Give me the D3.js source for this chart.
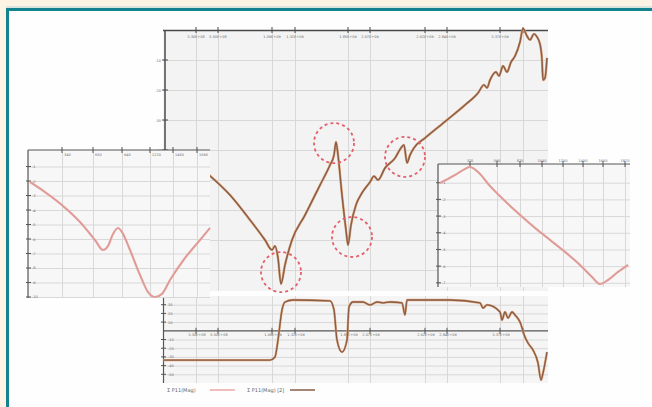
<!DOCTYPE html>
<html>
<head>
<meta charset="utf-8">
<script src="https://cdn.jsdelivr.net/npm/d3@7"></script>
<style>
body{margin:0;background:#fdf4e6;}
svg{display:block;font-family:"DejaVu Sans",sans-serif;}
</style>
</head>
<body>
<script>
// main sweep (MHz / dB)
var mainFreq = [460,670,870,1020,1090,1120,1150,1180,1220,1290,1420,1570,1670,1710,1730,1750,1790,1830,1850,1880,1930,1990,2070,2110,2150,2220,2320,2380,2410,2440,2470,2510,2620,2840,3020,3150,3210,3240,3270,3330,3360,3400,3440,3480,3520,3570,3600,3640,3670,3710,3740,3770,3790,3800,3820,3840];
var mainMag = [-48.3,-55,-63.3,-70,-73.3,-72,-76,-84.7,-78.3,-70,-61.7,-51.7,-45,-41.7,-37.3,-41.7,-55,-66.7,-71.7,-65,-58.3,-54.3,-50.7,-48.7,-50,-46,-42.7,-39.3,-38.3,-44.3,-41.7,-39.3,-36,-30,-25,-21,-18.3,-19.3,-16.7,-14,-15.3,-12,-14,-10.7,-8.7,-4,0.5,-2,-3.3,-1.3,-2.3,-4.7,-10,-16.7,-16,-9.3];
var mainXTicks = [330,550,1090,1320,1850,2070,2620,2840,3370,3600];
var mainXLabels = ["3.30E+08","5.50E+08","1.09E+09","1.32E+09","1.85E+09","2.07E+09","2.62E+09","2.84E+09","3.37E+09",""];
var mainYTicks = [-10,-20,-30,-40,-50,-60,-70,-80];

// marked resonances
var markFreq = [1180,1710,1890,2420];
var markMag = [-80.7,-37.7,-69,-42.3];

// phase trace below
var bottomFreq = [0,1070,1120,1150,1190,1220,1300,1670,1710,1740,1790,1840,1860,1900,2000,2070,2140,2200,2270,2390,2420,2440,2870,3170,3200,3240,3370,3390,3420,3450,3490,3520,3570,3620,3650,3700,3750,3780,3800,3840];
var bottomVal = [-33.6,-33.6,-30.1,-10.6,23.9,33.1,35.4,34.3,23.9,-10.6,-24.4,-10.6,27.4,33.1,33.1,29.7,33.1,32,33.1,32,18.2,35.4,35.4,32,26.2,29.7,21.6,12.4,21.6,14.7,21.6,18.2,10.1,-7.1,-14,-22.1,-37,-56.6,-48.5,-24.4];
var bottomYTicks = [30,20,10,-10,-20,-30,-40,-50];

// left zoom
var leftX = [2,17,34,52,67,75,80,85,90,94,102,112,120,127,134,142,157,172,182];
var leftY = [-2.07,-2.76,-3.66,-4.83,-6.07,-6.76,-6.48,-5.66,-5.24,-5.52,-6.76,-8.48,-9.66,-10,-9.79,-8.83,-7.31,-6.07,-5.24];
var leftXTicks = [34,65,94,122,145,169];
var leftYTicks = [-1,-2,-3,-4,-5,-6,-7,-8,-9,-10];

// right zoom
var rightX = [2,17,27,32,40,52,67,82,97,112,127,142,154,162,170,180,190];
var rightY = [-1.02,-0.54,-0.18,-0.06,-0.36,-1.2,-2.1,-2.93,-3.71,-4.43,-5.15,-5.93,-6.65,-7.07,-6.83,-6.35,-5.93];
var rightXTicks = [32,59,82,104,125,145,165,187];
var rightYTicks = [-1,-2,-3,-4,-5,-6,-7];

var legendNames = ["\u03a3 P11(Mag)", "\u03a3 P11(Mag) [2]"];

var brown = "#8a5d47", orange = "#dba47a", pink = "#eca6a6";

var svg = d3.select("body").append("svg")
    .attr("width", 652)
    .attr("height", 407);

svg.append("rect").attr("width",652).attr("height",407).attr("fill","#fdf4e6");
svg.append("rect").attr("x",8).attr("y",10).attr("width",644).attr("height",397).attr("fill","#fefefe");
svg.append("line").attr("x1",6).attr("x2",652).attr("y1",7).attr("y2",7).attr("stroke","#b5d6d3").attr("stroke-width",1);
svg.append("line").attr("x1",6).attr("x2",652).attr("y1",9.5).attr("y2",9.5).attr("stroke","#13848f").attr("stroke-width",3);
svg.append("line").attr("x1",7.5).attr("x2",7.5).attr("y1",8).attr("y2",407).attr("stroke","#13848f").attr("stroke-width",3);

// background, grid and axis lines for one panel
function drawPanel(x, y, xTicks, yTicks, bg){
  var g = svg.append("g");
  var xr = x.range(), yr = y.range();
  g.append("rect")
    .attr("x", xr[0]).attr("y", yr[0])
    .attr("width", xr[1]-xr[0]).attr("height", yr[1]-yr[0])
    .attr("fill", bg);
  g.append("g")
    .attr("transform","translate(0,"+yr[0]+")")
    .call(d3.axisBottom(x).tickValues(xTicks).tickSize(yr[1]-yr[0]).tickFormat(""))
    .call(function(a){ a.select(".domain").remove(); a.selectAll("line").attr("stroke","#d8d8d8"); });
  g.append("g")
    .attr("transform","translate("+xr[0]+",0)")
    .call(d3.axisRight(y).tickValues(yTicks).tickSize(xr[1]-xr[0]).tickFormat(""))
    .call(function(a){ a.select(".domain").remove(); a.selectAll("line").attr("stroke","#d8d8d8"); });
  return g;
}

function drawTrace(g, x, y, xs, ys, under, over, w){
  var line = d3.line()
      .x(function(d){ return x(d[0]); })
      .y(function(d){ return y(d[1]); })
      .curve(d3.curveMonotoneX);
  var pts = xs.map(function(v,i){ return [v, ys[i]]; });
  g.append("path").attr("d", line(pts)).attr("fill","none").attr("stroke",under).attr("stroke-width",w+1).attr("stroke-linejoin","round");
  g.append("path").attr("d", line(pts)).attr("fill","none").attr("stroke",over).attr("stroke-width",w).attr("stroke-linejoin","round");
}

function smallText(g, x, y, t, anchor){
  g.append("text").attr("x",x).attr("y",y).attr("font-size","3.5px").attr("fill","#6b6b6b")
    .attr("text-anchor", anchor || "start").text(t);
}

// main panel
var xMain = d3.scaleLinear().domain([0,3850]).range([163,548]);
var yMain = d3.scaleLinear().domain([0,-87]).range([30,291]);
var gMain = drawPanel(xMain, yMain, mainXTicks, mainYTicks, "#f3f3f3");
gMain.append("line").attr("x1",163).attr("x2",548).attr("y1",30.5).attr("y2",30.5).attr("stroke","#4a4a4a").attr("stroke-width",1.5);
gMain.append("line").attr("x1",165).attr("x2",165).attr("y1",30).attr("y2",291).attr("stroke","#4a4a4a").attr("stroke-width",1.5);
mainXTicks.forEach(function(d,i){
  gMain.append("line").attr("x1",xMain(d)).attr("x2",xMain(d)).attr("y1",27).attr("y2",33).attr("stroke","#4a4a4a");
  smallText(gMain, xMain(d), 38, mainXLabels[i], "middle");
});
mainYTicks.forEach(function(d){
  gMain.append("line").attr("x1",162).attr("x2",168).attr("y1",yMain(d)).attr("y2",yMain(d)).attr("stroke","#4a4a4a");
  smallText(gMain, 161, yMain(d)+1.5, d, "end");
});
drawTrace(gMain, xMain, yMain, mainFreq, mainMag, orange, brown, 1.4);

// bottom panel
var yBot = d3.scaleLinear().domain([40,-60]).range([296,383]);
var gBot = drawPanel(xMain, yBot, mainXTicks, bottomYTicks, "#f5f5f5");
gBot.append("line").attr("x1",163).attr("x2",548).attr("y1",yBot(0)).attr("y2",yBot(0)).attr("stroke","#555").attr("stroke-width",1.2);
gBot.append("line").attr("x1",163.5).attr("x2",163.5).attr("y1",296).attr("y2",383).attr("stroke","#555").attr("stroke-width",1.2);
bottomYTicks.forEach(function(d){
  gBot.append("line").attr("x1",161).attr("x2",166).attr("y1",yBot(d)).attr("y2",yBot(d)).attr("stroke","#555");
  smallText(gBot, 168, yBot(d)+1.5, d);
});
mainXTicks.forEach(function(d,i){
  gBot.append("line").attr("x1",xMain(d)).attr("x2",xMain(d)).attr("y1",yBot(0)-3).attr("y2",yBot(0)+3).attr("stroke","#555");
  smallText(gBot, xMain(d)+1, yBot(0)+5.5, mainXLabels[i], "middle");
});
drawTrace(gBot, xMain, yBot, bottomFreq, bottomVal, orange, brown, 1.3);

// legend
legendNames.forEach(function(n,i){
  var lx = 167 + i*80;
  svg.append("text").attr("x",lx).attr("y",392).attr("font-size","5px").attr("fill","#666").text(n);
  svg.append("line").attr("x1",lx+43).attr("x2",lx+68).attr("y1",390).attr("y2",390)
    .attr("stroke", i == 0 ? pink : brown).attr("stroke-width",1.5);
});

// left zoom
var xLeft = d3.scaleLinear().domain([0,182]).range([28,210]);
var yLeft = d3.scaleLinear().domain([0.14,-10.07]).range([150,298]);
var gLeft = drawPanel(xLeft, yLeft, leftXTicks, leftYTicks, "#f7f7f7");
gLeft.append("line").attr("x1",28).attr("x2",210).attr("y1",150).attr("y2",150).attr("stroke","#555").attr("stroke-width",1.2);
gLeft.append("line").attr("x1",28).attr("x2",28).attr("y1",150).attr("y2",298).attr("stroke","#555").attr("stroke-width",1.2);
leftXTicks.forEach(function(d){
  gLeft.append("line").attr("x1",xLeft(d)).attr("x2",xLeft(d)).attr("y1",147).attr("y2",153).attr("stroke","#555");
  smallText(gLeft, xLeft(d)+2, 156, d*10);
});
leftYTicks.forEach(function(d){
  gLeft.append("line").attr("x1",26).attr("x2",31).attr("y1",yLeft(d)).attr("y2",yLeft(d)).attr("stroke","#555");
  smallText(gLeft, 32, yLeft(d)+1.5, d);
});
drawTrace(gLeft, xLeft, yLeft, leftX, leftY, pink, "#d99c94", 1.2);

// right zoom
var xRight = d3.scaleLinear().domain([0,192]).range([438,630]);
var yRight = d3.scaleLinear().domain([0.12,-7.25]).range([164,287]);
var gRight = drawPanel(xRight, yRight, rightXTicks, rightYTicks, "#f7f7f7");
gRight.append("line").attr("x1",438).attr("x2",630).attr("y1",164).attr("y2",164).attr("stroke","#555").attr("stroke-width",1.2);
gRight.append("line").attr("x1",438).attr("x2",438).attr("y1",164).attr("y2",287).attr("stroke","#555").attr("stroke-width",1.2);
rightXTicks.forEach(function(d){
  gRight.append("line").attr("x1",xRight(d)).attr("x2",xRight(d)).attr("y1",161).attr("y2",167).attr("stroke","#555");
  smallText(gRight, xRight(d), 162, d*10, "middle");
});
rightYTicks.forEach(function(d){
  gRight.append("line").attr("x1",436).attr("x2",441).attr("y1",yRight(d)).attr("y2",yRight(d)).attr("stroke","#555");
  smallText(gRight, 442, yRight(d)+1.5, d);
});
drawTrace(gRight, xRight, yRight, rightX, rightY, pink, "#d99c94", 1.2);

// dashed circles round the resonances
svg.selectAll(".mark")
  .data(markFreq)
  .enter()
  .append("circle")
  .attr("class","mark")
  .attr("cx",function(d){ return xMain(d); })
  .attr("cy",function(d,i){ return yMain(markMag[i]); })
  .attr("r",20)
  .attr("fill","none")
  .attr("stroke","#e4606a")
  .attr("stroke-width",1.8)
  .attr("stroke-dasharray","3,3");
</script>
</body>
</html>
